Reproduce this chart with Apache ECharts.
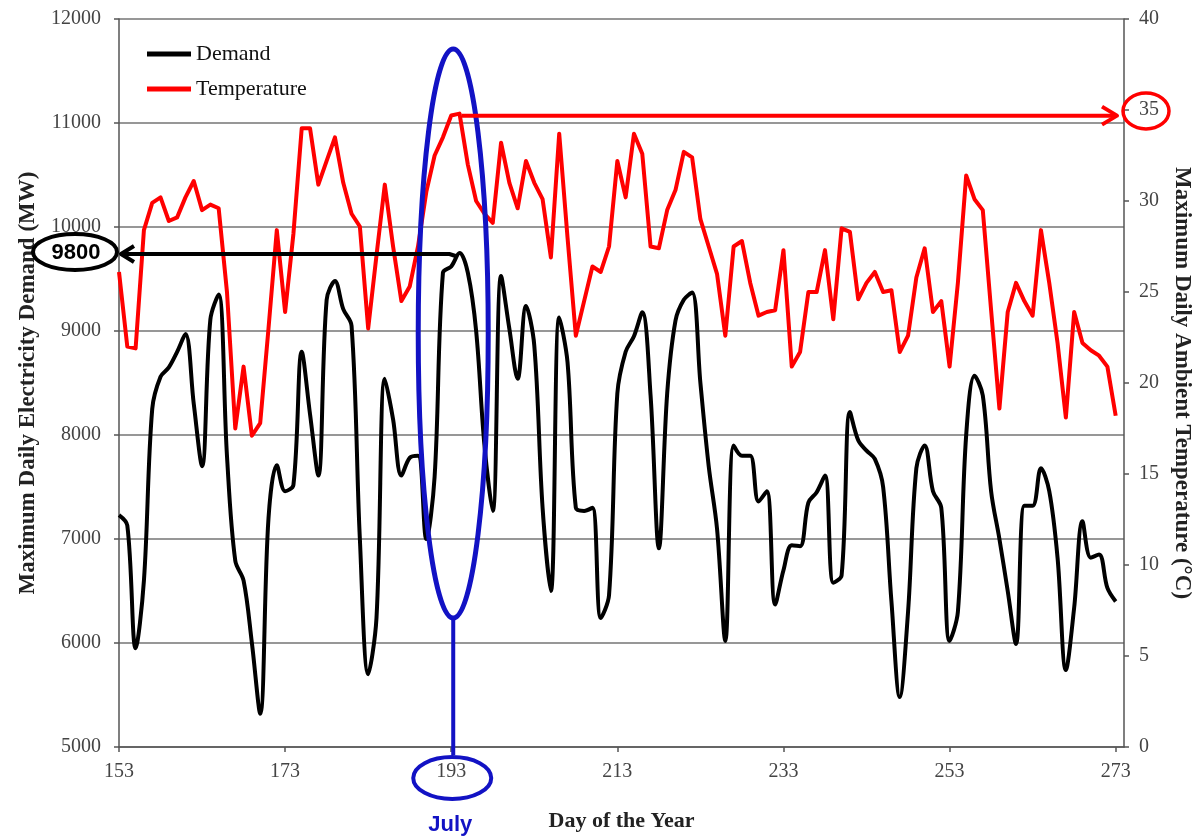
<!DOCTYPE html>
<html><head><meta charset="utf-8">
<script src="https://cdn.jsdelivr.net/npm/echarts@6/dist/echarts.min.js"></script>
<style>html,body{margin:0;padding:0;background:#fff}#c{width:1192px;height:837px}</style>
</head><body><div id="c"></div>
<script>
const days = [153,154,155,156,157,158,159,160,161,162,163,164,165,166,167,168,169,170,171,172,173,174,175,176,177,178,179,180,181,182,183,184,185,186,187,188,189,190,191,192,193,194,195,196,197,198,199,200,201,202,203,204,205,206,207,208,209,210,211,212,213,214,215,216,217,218,219,220,221,222,223,224,225,226,227,228,229,230,231,232,233,234,235,236,237,238,239,240,241,242,243,244,245,246,247,248,249,250,251,252,253,254,255,256,257,258,259,260,261,262,263,264,265,266,267,268,269,270,271,272,273];
const demand = [7230,7130,5950,6600,8250,8560,8650,8800,8970,8300,7700,9110,9350,7800,6790,6600,6000,5320,7200,7710,7460,7520,8800,8200,7610,9300,9480,9210,9050,7000,5700,6240,8540,8150,7610,7780,7800,7000,7600,9560,9620,9750,9560,9000,7900,7270,9530,9020,8540,9240,8860,7300,6500,9130,8700,7300,7270,7300,6240,6460,8400,8800,8950,9180,8380,6910,8400,9100,9300,9370,8500,7700,7100,6020,7900,7800,7800,7360,7460,6370,6700,6940,6930,7350,7450,7610,6580,6650,8220,7950,7850,7770,7500,6400,5480,6300,7680,7900,7460,7300,6020,6300,8000,8570,8380,7460,7000,6500,5990,7320,7320,7680,7460,6820,5740,6340,7170,6820,6850,6530,6400];
const temperature = [26.1,22.0,21.9,28.4,29.9,30.2,28.9,29.1,30.2,31.1,29.5,29.8,29.6,25.0,17.5,20.9,17.1,17.8,23.0,28.4,23.9,28.2,34.0,34.0,30.9,32.2,33.5,31.0,29.3,28.6,23.0,27.0,30.9,27.5,24.5,25.3,27.5,30.5,32.5,33.5,34.7,34.8,32.0,30.0,29.3,28.8,33.2,31.0,29.6,32.2,31.0,30.1,26.9,33.7,28.0,22.6,24.5,26.4,26.1,27.5,32.2,30.2,33.7,32.6,27.5,27.4,29.5,30.6,32.7,32.4,29.0,27.5,26.0,22.6,27.5,27.8,25.5,23.7,23.9,24.0,27.3,20.9,21.7,25.0,25.0,27.3,23.5,28.5,28.3,24.6,25.5,26.1,25.0,25.1,21.7,22.6,25.8,27.4,23.9,24.5,20.9,25.5,31.4,30.1,29.5,24.0,18.6,23.9,25.5,24.5,23.7,28.4,25.5,22.2,18.1,23.9,22.2,21.8,21.5,20.9,18.2];
const seriesNames = ['Demand', 'Temperature'];
const peakDay = 194;
const peakDemand = 9750;
const peakTemp = 34.8;
const peakLabel = '9800';

const serif = '"Liberation Serif", "Times New Roman", serif';
const sans = '"Liberation Sans", Arial, sans-serif';
const chart = echarts.init(document.getElementById('c'), null, {renderer: 'canvas'});
const axisLineStyle = {color: '#555', width: 1.5};
const option = {
  animation: false,
  backgroundColor: '#fff',
  grid: {left: 119, right: 68, top: 19, bottom: 90, outerBoundsMode: 'none', containLabel: false},
  legend: {
    data: seriesNames, orient: 'vertical', left: 147, top: 43, padding: 0,
    icon: 'rect', itemWidth: 44, itemHeight: 5, itemGap: 13,
    textStyle: {fontFamily: serif, fontSize: 22, color: '#111'}
  },
  xAxis: {
    type: 'value', min: 153, max: 274, interval: 20,
    axisLine: {show: true, lineStyle: axisLineStyle},
    axisTick: {show: true, length: 5, lineStyle: axisLineStyle},
    axisLabel: {fontFamily: serif, fontSize: 20, color: '#444', margin: 15, showMaxLabel: false},
    splitLine: {show: false},
    name: 'Day of the Year', nameLocation: 'middle', nameGap: 63,
    nameTextStyle: {fontFamily: serif, fontSize: 22, fontWeight: 'bold', color: '#222'}
  },
  yAxis: [{
    type: 'value', min: 5000, max: 12000, interval: 1000, position: 'left',
    axisLine: {show: true, lineStyle: axisLineStyle},
    axisTick: {show: true, length: 5, lineStyle: axisLineStyle},
    axisLabel: {fontFamily: serif, fontSize: 20, color: '#444', margin: 18, formatter: v => String(v)},
    splitLine: {show: true, lineStyle: {color: '#747474', width: 1.5}},
    name: 'Maximum Daily Electricity Demand (MW)', nameLocation: 'middle', nameRotate: 90, nameGap: 79,
    nameTextStyle: {fontFamily: serif, fontSize: 23, fontWeight: 'bold', color: '#222'}
  }, {
    type: 'value', min: 0, max: 40, interval: 5, position: 'right',
    axisLine: {show: true, lineStyle: axisLineStyle},
    axisTick: {show: true, length: 5, lineStyle: axisLineStyle},
    axisLabel: {fontFamily: serif, fontSize: 20, color: '#444', margin: 15, formatter: v => String(v)},
    splitLine: {show: false},
    name: 'Maximum Daily Ambient Temperature (\u00B0C)', nameLocation: 'middle', nameRotate: -90, nameGap: 46,
    nameTextStyle: {fontFamily: serif, fontSize: 23, fontWeight: 'bold', color: '#222'}
  }],
  series: [{
    name: seriesNames[0], type: 'line', yAxisIndex: 0, smooth: 0.35,
    showSymbol: false, symbol: 'none', color: '#000',
    lineStyle: {color: '#000', width: 4},
    data: days.map((d, i) => [d, demand[i]]), z: 3
  }, {
    name: seriesNames[1], type: 'line', yAxisIndex: 1,
    showSymbol: false, symbol: 'none', color: '#ff0000',
    lineStyle: {color: '#ff0000', width: 4, join: 'round'},
    data: days.map((d, i) => [d, temperature[i]]), z: 2
  }]
};
chart.setOption(option);

const toPx = (x, y, yi) => chart.convertToPixel({xAxisIndex: 0, yAxisIndex: yi}, [x, y]);
const pD = toPx(peakDay, peakDemand, 0);
const pT = toPx(peakDay, peakTemp, 1);
const leftX = toPx(153, 5000, 0)[0];
const bottomY = toPx(153, 5000, 0)[1];
const rightX = toPx(274, 5000, 0)[0];
const topY = toPx(153, 12000, 0)[1];
const julyX = toPx(193, 5000, 0)[0] + 2;
const tempLabelY = toPx(274, 35, 1)[1];
const blue = '#1212c4';
const ay = pD[1] + 1;
const ry = pT[1] + 2;
const ellTop = topY + 30, ellBot = toPx(153, 6240, 0)[1];

chart.setOption({
  graphic: [
    {type: 'polyline', z: 100, shape: {points: [[pD[0] - 4, ay + 2], [pD[0] - 10, ay], [leftX + 2, ay]]},
     style: {stroke: '#000', lineWidth: 4, fill: null}},
    {type: 'polyline', z: 100, shape: {points: [[leftX + 15, ay - 8], [leftX + 2, ay], [leftX + 15, ay + 8]]},
     style: {stroke: '#000', lineWidth: 4, fill: null, lineJoin: 'round'}},
    {type: 'ellipse', z: 101, shape: {cx: leftX - 44, cy: ay - 2, rx: 42, ry: 18},
     style: {fill: '#fff', stroke: '#000', lineWidth: 4}},
    {type: 'text', z: 102, style: {text: peakLabel, x: leftX - 43, y: ay - 1, textAlign: 'center', align: 'center',
      textVerticalAlign: 'middle', verticalAlign: 'middle', font: 'bold 22px ' + sans, fill: '#000'}},
    {type: 'polyline', z: 100, shape: {points: [[pT[0] + 2, ry], [rightX - 8, ry]]},
     style: {stroke: '#ff0000', lineWidth: 4, fill: null}},
    {type: 'polyline', z: 100, shape: {points: [[rightX - 22, ry - 9], [rightX - 7, ry], [rightX - 22, ry + 9]]},
     style: {stroke: '#ff0000', lineWidth: 4, fill: null, lineJoin: 'round'}},
    {type: 'ellipse', z: 101, shape: {cx: rightX + 22, cy: tempLabelY + 1, rx: 23, ry: 18},
     style: {fill: null, stroke: '#ff0000', lineWidth: 3.5}},
    {type: 'ellipse', z: 99, shape: {cx: julyX, cy: (ellTop + ellBot) / 2, rx: 35, ry: (ellBot - ellTop) / 2},
     style: {fill: null, stroke: blue, lineWidth: 5}},
    {type: 'line', z: 99, shape: {x1: julyX, y1: ellBot, x2: julyX, y2: bottomY + 8},
     style: {stroke: blue, lineWidth: 4}},
    {type: 'ellipse', z: 99, shape: {cx: julyX - 1, cy: bottomY + 31, rx: 39, ry: 21},
     style: {fill: null, stroke: blue, lineWidth: 4}},
    {type: 'text', z: 102, style: {text: 'July', x: julyX - 3, y: bottomY + 78, textAlign: 'center', align: 'center',
      textVerticalAlign: 'middle', verticalAlign: 'middle', font: 'bold 22px ' + sans, fill: blue}}
  ]
});
</script>
</body></html>
